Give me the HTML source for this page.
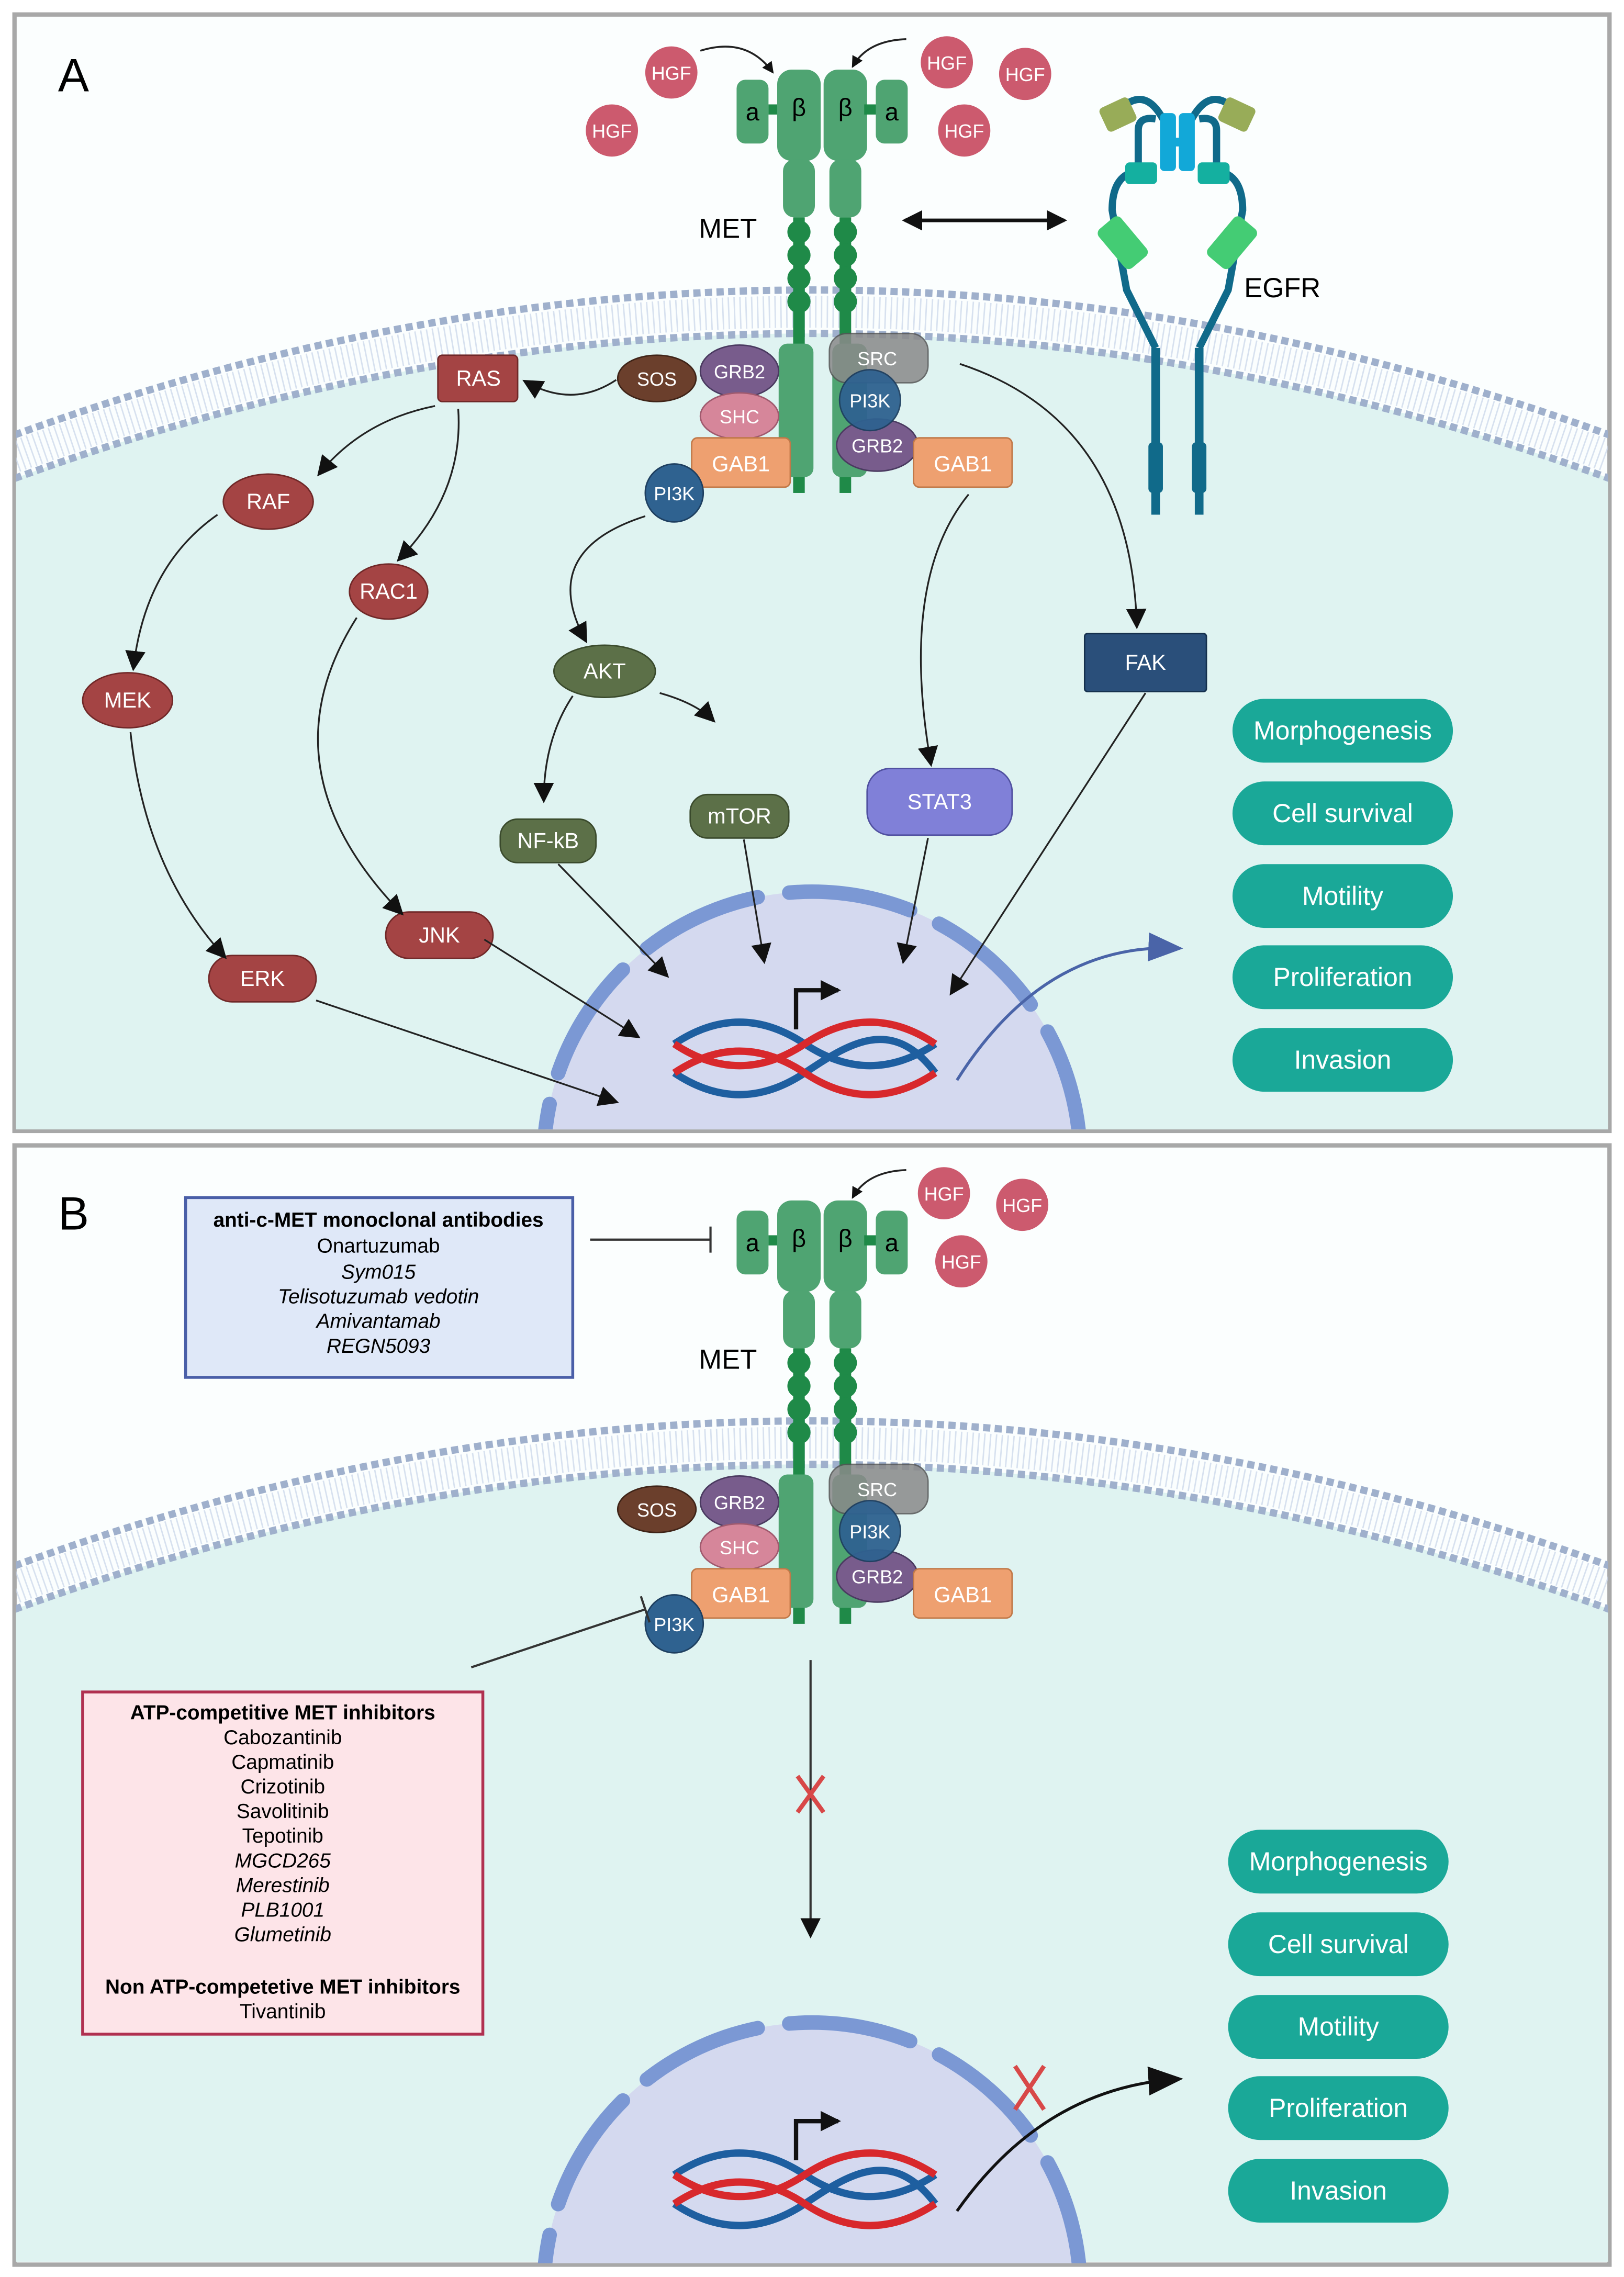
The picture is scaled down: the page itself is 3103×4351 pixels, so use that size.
<!DOCTYPE html>
<html><head><meta charset="utf-8"><style>html,body{margin:0;padding:0;background:#fff;width:3103px;height:4351px;overflow:hidden}svg{display:block}text{font-family:"Liberation Sans",sans-serif}</style></head><body>
<svg width="3103" height="4351" viewBox="0 0 1120 1570.5" preserveAspectRatio="none" xmlns="http://www.w3.org/2000/svg">
<defs>
<marker id="ah" markerWidth="8" markerHeight="8" refX="7" refY="4" orient="auto" markerUnits="userSpaceOnUse"><path d="M0,0 L8,4 L0,8 z" fill="#111"/></marker>
<marker id="ahs" markerWidth="14" markerHeight="14" refX="12" refY="7" orient="auto" markerUnits="userSpaceOnUse"><path d="M0,0 L14,7 L0,14 z" fill="#111"/></marker>
<marker id="ahsr" markerWidth="14" markerHeight="14" refX="2" refY="7" orient="auto" markerUnits="userSpaceOnUse"><path d="M14,0 L0,7 L14,14 z" fill="#111"/></marker>
<marker id="ahb" markerWidth="24" markerHeight="20" refX="20" refY="10" orient="auto" markerUnits="userSpaceOnUse"><path d="M0,0 L24,10 L0,20 z" fill="#4a64a8"/></marker>
<marker id="ahk" markerWidth="24" markerHeight="20" refX="20" refY="10" orient="auto" markerUnits="userSpaceOnUse"><path d="M0,0 L24,10 L0,20 z" fill="#111"/></marker>
<clipPath id="cA"><rect x="11" y="11" width="1098" height="768"/></clipPath>
<clipPath id="cB"><rect x="11" y="791" width="1098" height="770"/></clipPath>

<g id="cell">
 <path d="M10,330 Q560,130 1110,330 L1110,780 L10,780 Z" fill="#dff3f1"/>
 <path d="M10,300 Q560,100 1110,300" fill="none" stroke="#9fb0cc" stroke-width="5" stroke-dasharray="5,3"/>
 <path d="M10,330 Q560,130 1110,330" fill="none" stroke="#9fb0cc" stroke-width="5" stroke-dasharray="5,3"/>
 <path d="M10,315 Q560,115 1110,315" fill="none" stroke="#c8d4e8" stroke-width="22" stroke-dasharray="1,3" opacity="0.7"/>
 <circle cx="560" cy="800" r="185" fill="#d4d9ef"/>
 <circle cx="560" cy="800" r="185" fill="none" stroke="#7b98d4" stroke-width="10" stroke-linecap="round" stroke-dasharray="85,22"/>
</g>

<g id="met">
 <rect x="508" y="55" width="22" height="44" rx="6" fill="#4fa472"/>
 <rect x="530" y="72" width="10" height="7" fill="#1f8a48"/>
 <rect x="536" y="48" width="30" height="63" rx="10" fill="#4fa472"/>
 <rect x="568" y="48" width="30" height="63" rx="10" fill="#4fa472"/>
 <rect x="596" y="72" width="10" height="7" fill="#1f8a48"/>
 <rect x="604" y="55" width="22" height="44" rx="6" fill="#4fa472"/>
 <text x="519" y="83" font-size="17" text-anchor="middle">a</text>
 <text x="551" y="80" font-size="17" text-anchor="middle">β</text>
 <text x="583" y="80" font-size="17" text-anchor="middle">β</text>
 <text x="615" y="83" font-size="17" text-anchor="middle">a</text>
 <rect x="540" y="110" width="22" height="40" rx="8" fill="#4fa472"/>
 <rect x="572" y="110" width="22" height="40" rx="8" fill="#4fa472"/>
 <g fill="#1f8a48">
 <rect x="547" y="150" width="8" height="190"/><rect x="579" y="150" width="8" height="190"/>
 <circle cx="551" cy="160" r="8"/><circle cx="551" cy="176" r="8"/><circle cx="551" cy="192" r="8"/><circle cx="551" cy="208" r="8"/>
 <circle cx="583" cy="160" r="8"/><circle cx="583" cy="176" r="8"/><circle cx="583" cy="192" r="8"/><circle cx="583" cy="208" r="8"/>
 </g>
 <rect x="537" y="237" width="24" height="92" rx="6" fill="#4fa472"/>
 <rect x="574" y="237" width="24" height="92" rx="6" fill="#4fa472"/>
 <text x="502" y="164" font-size="19" text-anchor="middle">MET</text>
</g>
<g id="adapt" font-size="13" fill="#fff" text-anchor="middle">
 <ellipse cx="453" cy="261" rx="27" ry="16" fill="#6b3f2c" stroke="#3f2418"/><text x="453" y="266">SOS</text>
 <ellipse cx="510" cy="256" rx="27" ry="18" fill="#785c8c" stroke="#4a3a60"/><text x="510" y="261">GRB2</text>
 <ellipse cx="510" cy="287" rx="27" ry="16" fill="#d6869a" stroke="#a05a6e"/><text x="510" y="292">SHC</text>
 <rect x="477" y="302" width="68" height="34" rx="4" fill="#eea070" stroke="#c07848"/><text x="511" y="325" font-size="15">GAB1</text>
 <circle cx="465" cy="340" r="20" fill="#2f6290" stroke="#1e3f60"/><text x="465" y="345">PI3K</text>
 <rect x="572" y="230" width="68" height="34" rx="12" fill="#8a8a8a" stroke="#555" opacity="0.85"/><text x="605" y="252">SRC</text>
 <ellipse cx="605" cy="307" rx="28" ry="18" fill="#785c8c" stroke="#4a3a60"/><text x="605" y="312">GRB2</text>
 <circle cx="600" cy="276" r="21" fill="#2f6290" stroke="#1e3f60" opacity="0.95"/><text x="600" y="281">PI3K</text>
 <rect x="630" y="302" width="68" height="34" rx="4" fill="#eea070" stroke="#c07848"/><text x="664" y="325" font-size="15">GAB1</text>
</g>
<g id="dna">
 <path d="M465,720 C495,700 525,700 555,720 S615,740 645,720" fill="none" stroke="#1e5fa0" stroke-width="5"/>
 <path d="M465,740 C495,760 525,760 555,740 S615,700 645,740" fill="none" stroke="#1e5fa0" stroke-width="5"/>
 <path d="M465,720 C495,740 525,740 555,720 S615,700 645,720" fill="none" stroke="#d8282c" stroke-width="5"/>
 <path d="M465,740 C495,720 525,720 555,740 S615,760 645,740" fill="none" stroke="#d8282c" stroke-width="5"/>
 <path d="M549,710 L549,683 L578,683" fill="none" stroke="#111" stroke-width="3" marker-end="url(#ahs)"/>
</g>
<g id="pills" font-size="18" fill="#fff" text-anchor="middle">
 <rect x="850" y="482" width="152" height="44" rx="22" fill="#1aa898"/><text x="926" y="510">Morphogenesis</text>
 <rect x="850" y="539" width="152" height="44" rx="22" fill="#1aa898"/><text x="926" y="567">Cell survival</text>
 <rect x="850" y="596" width="152" height="44" rx="22" fill="#1aa898"/><text x="926" y="624">Motility</text>
 <rect x="850" y="652" width="152" height="44" rx="22" fill="#1aa898"/><text x="926" y="680">Proliferation</text>
 <rect x="850" y="709" width="152" height="44" rx="22" fill="#1aa898"/><text x="926" y="737">Invasion</text>
</g>
</defs>

<rect x="10" y="10" width="1100" height="770" fill="#fbfefe" stroke="#a8a8a8" stroke-width="3"/>
<g clip-path="url(#cA)"><use href="#cell"/></g>
<text x="40" y="63" font-size="32">A</text>
<g font-size="13" fill="#fff" text-anchor="middle">
<circle cx="463" cy="50" r="18" fill="#cc5a6e"/><text x="463" y="55">HGF</text>
<circle cx="422" cy="90" r="18" fill="#cc5a6e"/><text x="422" y="95">HGF</text>
<circle cx="653" cy="43" r="18" fill="#cc5a6e"/><text x="653" y="48">HGF</text>
<circle cx="707" cy="51" r="18" fill="#cc5a6e"/><text x="707" y="56">HGF</text>
<circle cx="665" cy="90" r="18" fill="#cc5a6e"/><text x="665" y="95">HGF</text>
</g>
<path d="M483,35 Q515,25 533,50" fill="none" stroke="#222" stroke-width="1.3" marker-end="url(#ah)"/>
<path d="M625,27 Q598,28 588,46" fill="none" stroke="#222" stroke-width="1.3" marker-end="url(#ah)"/>
<use href="#met"/>
<line x1="624" y1="152" x2="734" y2="152" stroke="#111" stroke-width="2.5" marker-start="url(#ahsr)" marker-end="url(#ahs)"/>
<g>
 <path d="M797,355 L797,240 M827,355 L827,240" stroke="#106a8a" stroke-width="6"/>
 <path d="M797,240 L777,200 L767,145 Q767,120 785,118 M827,240 L847,200 L857,145 Q857,120 839,118" fill="none" stroke="#106a8a" stroke-width="5"/>
 <path d="M785,118 L785,90 Q785,80 797,82 M839,118 L839,90 Q839,80 827,82" fill="none" stroke="#106a8a" stroke-width="5"/>
 <path d="M802,82 Q790,60 774,74 M822,82 Q834,60 850,74" fill="none" stroke="#106a8a" stroke-width="5"/>
 <rect x="792" y="305" width="10" height="35" rx="3" fill="#106a8a"/><rect x="822" y="305" width="10" height="35" rx="3" fill="#106a8a"/>
 <rect x="800" y="78" width="11" height="40" rx="3" fill="#12a8d8"/><rect x="813" y="78" width="11" height="40" rx="3" fill="#12a8d8"/>
 <rect x="806" y="95" width="12" height="6" fill="#12a8d8"/>
 <rect x="760" y="70" width="22" height="18" rx="3" fill="#98ac58" transform="rotate(-25 771 79)"/>
 <rect x="842" y="70" width="22" height="18" rx="3" fill="#98ac58" transform="rotate(25 853 79)"/>
 <rect x="776" y="112" width="22" height="15" rx="3" fill="#14b0a0"/><rect x="826" y="112" width="22" height="15" rx="3" fill="#14b0a0"/>
 <rect x="764" y="150" width="20" height="35" rx="4" fill="#44cc74" transform="rotate(-40 774 167)"/>
 <rect x="840" y="150" width="20" height="35" rx="4" fill="#44cc74" transform="rotate(40 850 167)"/>
 <text x="858" y="205" font-size="19">EGFR</text>
</g>
<use href="#adapt"/>
<g font-size="15" fill="#fff" text-anchor="middle">
<rect x="302" y="245" width="55" height="32" rx="3" fill="#a44444" stroke="#702828"/><text x="330" y="266">RAS</text>
<ellipse cx="185" cy="346" rx="31" ry="19" fill="#a44444" stroke="#702828"/><text x="185" y="351">RAF</text>
<ellipse cx="268" cy="408" rx="27" ry="19" fill="#a44444" stroke="#702828"/><text x="268" y="413">RAC1</text>
<ellipse cx="88" cy="483" rx="31" ry="19" fill="#a44444" stroke="#702828"/><text x="88" y="488">MEK</text>
<rect x="144" y="659" width="74" height="32" rx="16" fill="#a44444" stroke="#702828"/><text x="181" y="680">ERK</text>
<rect x="266" y="629" width="74" height="32" rx="16" fill="#a44444" stroke="#702828"/><text x="303" y="650">JNK</text>
<ellipse cx="417" cy="463" rx="35" ry="18" fill="#5c7048" stroke="#3a4a2c"/><text x="417" y="468">AKT</text>
<rect x="345" y="565" width="66" height="30" rx="12" fill="#5c7048" stroke="#3a4a2c"/><text x="378" y="585">NF-kB</text>
<rect x="476" y="548" width="68" height="30" rx="12" fill="#5c7048" stroke="#3a4a2c"/><text x="510" y="568">mTOR</text>
<rect x="598" y="530" width="100" height="46" rx="16" fill="#8080d8" stroke="#5050a0"/><text x="648" y="558">STAT3</text>
<rect x="748" y="437" width="84" height="40" rx="2" fill="#2a4f7a" stroke="#15304d"/><text x="790" y="462">FAK</text>
</g>
<g fill="none" stroke="#222" stroke-width="1.2" marker-end="url(#ahs)">
<path d="M425,262 Q395,282 362,263"/>
<path d="M300,280 Q250,290 220,327"/>
<path d="M316,282 Q320,340 275,386"/>
<path d="M150,355 Q100,390 92,461"/>
<path d="M90,505 Q100,600 155,660"/>
<path d="M246,426 Q180,530 277,630"/>
<path d="M445,356 Q370,380 404,442"/>
<path d="M395,480 Q375,510 375,552"/>
<path d="M455,478 Q480,485 492,497"/>
<path d="M668,341 Q620,400 642,527"/>
<path d="M662,251 Q780,290 784,432"/>
<path d="M218,690 L425,760"/>
<path d="M334,648 L440,715"/>
<path d="M385,596 L460,673"/>
<path d="M513,579 L527,663"/>
<path d="M640,578 L623,663"/>
<path d="M790,478 L656,685"/>
</g>
<use href="#dna"/>
<path d="M660,745 Q720,650 812,654" fill="none" stroke="#4a64a8" stroke-width="2" marker-end="url(#ahb)"/>
<use href="#pills"/>

<rect x="10" y="790" width="1100" height="772" fill="#fbfefe" stroke="#a8a8a8" stroke-width="3"/>
<g clip-path="url(#cB)"><use href="#cell" transform="translate(0,780)"/></g>
<text x="40" y="848" font-size="32">B</text>
<g font-size="13" fill="#fff" text-anchor="middle">
<circle cx="651" cy="823" r="18" fill="#cc5a6e"/><text x="651" y="828">HGF</text>
<circle cx="705" cy="831" r="18" fill="#cc5a6e"/><text x="705" y="836">HGF</text>
<circle cx="663" cy="870" r="18" fill="#cc5a6e"/><text x="663" y="875">HGF</text>
</g>
<path d="M625,807 Q598,808 588,826" fill="none" stroke="#222" stroke-width="1.3" marker-end="url(#ah)"/>
<use href="#met" transform="translate(0,780)"/>
<use href="#adapt" transform="translate(0,780)"/>
<rect x="128" y="826" width="267" height="124" fill="#dfe8f8" stroke="#4a5fa8" stroke-width="2"/>
<g font-size="14" text-anchor="middle">
<text x="261" y="846" font-weight="bold">anti-c-MET monoclonal antibodies</text>
<text x="261" y="864">Onartuzumab</text>
<text x="261" y="882" font-style="italic">Sym015</text>
<text x="261" y="899" font-style="italic">Telisotuzumab vedotin</text>
<text x="261" y="916" font-style="italic">Amivantamab</text>
<text x="261" y="933" font-style="italic">REGN5093</text>
</g>
<path d="M407,855 L490,855 M490,846 L490,864" stroke="#333" stroke-width="1.5" fill="none"/>
<rect x="57" y="1167" width="276" height="236" fill="#fde4e8" stroke="#b03050" stroke-width="2"/>
<g font-size="14" text-anchor="middle">
<text x="195" y="1186" font-weight="bold">ATP-competitive MET inhibitors</text>
<text x="195" y="1203">Cabozantinib</text>
<text x="195" y="1220">Capmatinib</text>
<text x="195" y="1237">Crizotinib</text>
<text x="195" y="1254">Savolitinib</text>
<text x="195" y="1271">Tepotinib</text>
<text x="195" y="1288" font-style="italic">MGCD265</text>
<text x="195" y="1305" font-style="italic">Merestinib</text>
<text x="195" y="1322" font-style="italic">PLB1001</text>
<text x="195" y="1339" font-style="italic">Glumetinib</text>
<text x="195" y="1375" font-weight="bold">Non ATP-competetive MET inhibitors</text>
<text x="195" y="1392">Tivantinib</text>
</g>
<path d="M325,1150 L445,1110 M442,1101 L448,1119" stroke="#333" stroke-width="1.5" fill="none"/>
<path d="M559,1145 L559,1335" stroke="#333" stroke-width="1.5" fill="none" marker-end="url(#ahs)"/>
<path d="M550,1225 L568,1250 M568,1225 L550,1250" stroke="#d84848" stroke-width="3"/>
<use href="#dna" transform="translate(0,780)"/>
<path d="M660,1525 Q720,1440 812,1434" fill="none" stroke="#111" stroke-width="2" marker-end="url(#ahk)"/>
<path d="M700,1425 L720,1455 M720,1425 L700,1455" stroke="#d84848" stroke-width="3"/>
<use href="#pills" transform="translate(-3,780)"/>
</svg>
</body></html>
